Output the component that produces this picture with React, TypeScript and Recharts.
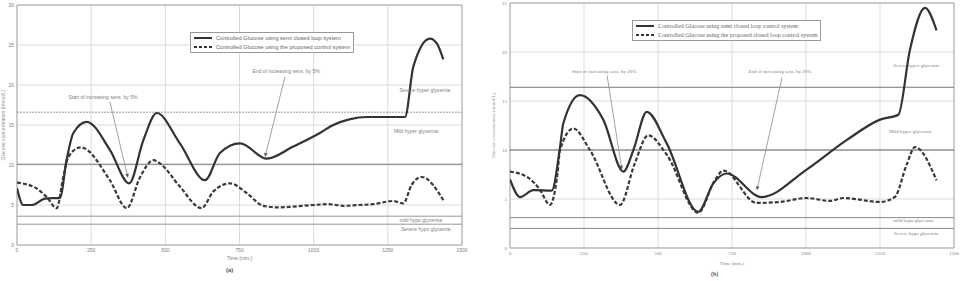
import React from 'react';
import {
  LineChart,
  Line,
  XAxis,
  YAxis,
  CartesianGrid,
  ReferenceLine,
  ReferenceDot,
  ReferenceArea,
  Legend,
} from 'recharts';

// ---------- data ----------
const timeTicks = [0, 250, 500, 750, 1000, 1250, 1500];
const glucoseTicksA = [0, 5, 10, 15, 20, 25, 30];
const glucoseTicksB = [0, 5, 10, 15, 20, 25];

// Panel (a): sensitivity increased by 5%
const semiTimeA = [0, 21, 50, 95, 145, 167, 190, 235, 313, 378, 426, 471, 549, 634, 684, 752, 842, 931, 1021, 1066, 1120, 1180, 1250, 1308, 1336, 1392, 1415, 1437];
const semiGlucoseA = [7.1, 5.0, 5.0, 5.8, 5.9, 10.6, 14.0, 15.4, 11.9, 7.7, 13.1, 16.5, 12.7, 8.1, 11.5, 12.7, 10.8, 12.3, 14.0, 15.0, 15.7, 16.0, 16.0, 16.0, 22.3, 25.8, 25.2, 23.2];
const propTimeA = [0, 60, 100, 134, 156, 173, 215, 313, 370, 415, 460, 482, 549, 622, 662, 718, 774, 830, 880, 931, 999, 1050, 1100, 1150, 1200, 1268, 1302, 1330, 1364, 1437];
const propGlucoseA = [7.8, 7.2, 6.0, 4.6, 8.5, 11.0, 12.2, 8.1, 4.6, 8.5, 10.6, 10.2, 7.3, 4.6, 6.7, 7.7, 6.5, 4.9, 4.7, 4.8, 5.0, 5.1, 4.9, 5.0, 5.1, 5.5, 5.2, 7.5, 8.5, 5.6];

// Panel (b): sensitivity increased by 20%
const semiTimeB = [0, 34, 79, 141, 169, 180, 236, 315, 383, 417, 462, 529, 636, 687, 732, 850, 1002, 1137, 1250, 1312, 1351, 1402, 1441];
const semiGlucoseB = [7.0, 5.2, 5.9, 5.85, 10.3, 12.7, 15.6, 13.1, 7.8, 10.0, 13.9, 10.7, 3.7, 6.6, 7.6, 5.2, 8.0, 11.0, 13.1, 13.6, 20.2, 24.5, 22.2];
const propTimeB = [0, 60, 100, 135, 160, 169, 214, 270, 372, 420, 467, 530, 636, 690, 721, 833, 912, 1002, 1081, 1126, 1250, 1300, 1340, 1368, 1441];
const propGlucoseB = [7.8, 7.2, 6.0, 4.4, 7.5, 10.0, 12.2, 10.0, 4.4, 8.5, 11.5, 9.5, 3.6, 6.8, 7.9, 4.6, 4.7, 5.1, 4.8, 5.1, 4.7, 5.2, 8.5, 10.3, 6.9];

const thresholdNames = ['Severe hyper glycemia', 'Mild hyper glycemia', 'mild hypo glycemia', 'Severe hypo glycemia'];
const thresholdsA = [16.6, 10.1, 3.6, 2.6];
const thresholdsB = [16.4, 10.0, 3.1, 2.0];
const thresholdLabelTimeA = [1375, 1345, 1361, 1378];
const thresholdLabelGlucoseA = [19.4, 14.25, 3.1, 2.0];
const thresholdLabelTimeB = [1372, 1351, 1362, 1372];
const thresholdLabelGlucoseB = [18.7, 11.9, 2.86, 1.5];

const noteTextsA = ['Start of increasing sens. by 5%', 'End of increasing sens. by 5%'];
const noteTextsB = ['Start of increasing sens. by 20%', 'End of increasing sens. by 20%'];
// [label t, label g, arrow start t, start g, arrow end t, end g]
const notesA = [
  [290, 18.5, 313, 17.9, 374, 8.4],
  [907, 21.75, 903, 21.0, 836, 11.0],
];
const notesB = [
  [318, 18.0, 328, 17.6, 378, 8.0],
  [912, 18.0, 919, 17.4, 834, 5.9],
];

const legendA = ['Controlled Glucose using semi closed loop system', 'Controlled Glucose using the proposed control system'];
const legendB = ['Controlled Glucose using semi closed loop control system', 'Controlled Glucose using the proposed closed loop control system'];

const zip = (t: number[], g: number[]) => t.map((x, i) => ({ t: x, g: g[i] }));

// ---------- helpers ----------
const Arrow = (p: any) => {
  const { x1, y1, x2, y2 } = p;
  const a = Math.atan2(y2 - y1, x2 - x1);
  const L = 4;
  const W = 1.8;
  const bx = x2 - L * Math.cos(a);
  const by = y2 - L * Math.sin(a);
  const px = -Math.sin(a) * W;
  const py = Math.cos(a) * W;
  return (
    <g>
      <line x1={x1} y1={y1} x2={bx} y2={by} stroke="#8a8a8a" strokeWidth={0.8} />
      <polygon points={`${x2},${y2} ${bx + px},${by + py} ${bx - px},${by - py}`} fill="#555" />
    </g>
  );
};

const makeLegend = (items: string[], font: string, fontSize: number) => () => (
  <div
    style={{
      border: '1px solid #999',
      background: '#fff',
      padding: '1px 3px',
      fontFamily: font,
      fontSize,
      color: '#666',
      lineHeight: '8.5px',
      whiteSpace: 'nowrap',
    }}
  >
    {items.map((txt, i) => (
      <div key={i} style={{ display: 'flex', alignItems: 'center' }}>
        <svg width={18} height={6} style={{ marginRight: 4 }}>
          <line
            x1={0}
            y1={3}
            x2={18}
            y2={3}
            stroke="#333"
            strokeWidth={2}
            strokeDasharray={i === 1 ? '3 2' : undefined}
          />
        </svg>
        <span>{txt}</span>
      </div>
    ))}
  </div>
);

type PanelProps = {
  width: number;
  height: number;
  margin: { top: number; right: number; bottom: number; left: number };
  yAxisWidth: number;
  yTicks: number[];
  semi: { t: number; g: number }[];
  prop: { t: number; g: number }[];
  thresholds: number[];
  thrLabelT: number[];
  thrLabelG: number[];
  thrColors: string[];
  thrDash: (string | undefined)[];
  notes: number[][];
  noteTexts: string[];
  legendItems: string[];
  legendPos: { left: number; top: number };
  legendFont: number;
  font: string;
  yLabelOffset: number;
  xLabelOffset: number;
};

function Panel(p: PanelProps) {
  const yMax = p.yTicks[p.yTicks.length - 1];
  const small = { fontSize: 5, fill: '#808080', fontFamily: p.font };
  return (
    <LineChart width={p.width} height={p.height} margin={p.margin} style={{ fontFamily: p.font }}>
      <CartesianGrid stroke="#d2d2d2" strokeWidth={0.8} />
      <ReferenceArea x1={0} x2={1500} y1={0} y2={yMax} fill="none" stroke="#9a9a9a" strokeWidth={0.8} ifOverflow="visible" />
      <XAxis
        dataKey="t"
        type="number"
        domain={[0, 1500]}
        ticks={timeTicks}
        allowDataOverflow
        tick={small}
        tickLine={false}
        axisLine={false}
        tickSize={2}
        tickMargin={1}
        height={12}
        label={{ value: 'Time (min.)', position: 'insideBottom', offset: p.xLabelOffset, fontSize: 5, fill: '#808080' }}
      />
      <YAxis
        type="number"
        domain={[0, yMax]}
        ticks={p.yTicks}
        allowDataOverflow
        tick={small}
        tickLine={false}
        axisLine={false}
        tickSize={2}
        tickMargin={1}
        width={p.yAxisWidth}
        label={{
          value: 'Glucose concentration (mmol/L)',
          angle: -90,
          position: 'insideLeft',
          offset: p.yLabelOffset,
          fontSize: 5,
          fill: '#909090',
          style: { textAnchor: 'middle' },
        }}
      />
      {p.thresholds.map((v, i) => (
        <ReferenceLine key={'thr' + i} y={v} stroke={p.thrColors[i]} strokeWidth={0.9} strokeDasharray={p.thrDash[i]} />
      ))}
      {p.thresholds.map((_, i) => (
        <ReferenceDot
          key={'thl' + i}
          x={p.thrLabelT[i]}
          y={p.thrLabelG[i]}
          r={0.01}
          fill="none"
          stroke="none"
          label={{ value: thresholdNames[i], position: 'center', ...small }}
        />
      ))}
      {p.notes.map((n, i) => (
        <ReferenceLine
          key={'ar' + i}
          segment={[
            { x: n[2], y: n[3] },
            { x: n[4], y: n[5] },
          ]}
          shape={Arrow}
          ifOverflow="visible"
        />
      ))}
      {p.notes.map((n, i) => (
        <ReferenceDot
          key={'nt' + i}
          x={n[0]}
          y={n[1]}
          r={0.01}
          fill="none"
          stroke="none"
          label={{ value: p.noteTexts[i], position: 'center', ...small }}
        />
      ))}
      <Line
        data={p.prop}
        dataKey="g"
        type="monotone"
        stroke="#3a3a3a"
        strokeWidth={2.2}
        strokeDasharray="4 2"
        dot={false}
        isAnimationActive={false}
      />
      <Line
        data={p.semi}
        dataKey="g"
        type="monotone"
        stroke="#333"
        strokeWidth={2.2}
        dot={false}
        isAnimationActive={false}
      />
      <Legend
        layout="vertical"
        align="center"
        verticalAlign="middle"
        content={makeLegend(p.legendItems, p.font, p.legendFont)}
        wrapperStyle={{ position: 'absolute', left: p.legendPos.left, top: p.legendPos.top, width: 'auto' }}
      />
    </LineChart>
  );
}

export default function App() {
  return (
    <div style={{ position: 'absolute', left: 0, top: 0, width: 961, height: 281, background: '#fff', overflow: 'hidden' }}>
      <div style={{ position: 'absolute', left: 0, top: 0 }}>
        <Panel
          width={480}
          height={281}
          margin={{ top: 5, right: 18, bottom: 24, left: 5 }}
          yAxisWidth={12}
          yTicks={glucoseTicksA}
          semi={zip(semiTimeA, semiGlucoseA)}
          prop={zip(propTimeA, propGlucoseA)}
          thresholds={thresholdsA}
          thrLabelT={thresholdLabelTimeA}
          thrLabelG={thresholdLabelGlucoseA}
          thrColors={['#8c8c8c', '#6a6a6a', '#8c8c8c', '#8c8c8c']}
          thrDash={['2 1', undefined, undefined, undefined]}
          notes={notesA}
          noteTexts={noteTextsA}
          legendItems={legendA}
          legendPos={{ left: 190, top: 32 }}
          legendFont={5.6}
          font="'Liberation Sans', Arial, sans-serif"
          yLabelOffset={-2}
          xLabelOffset={-3}
        />
      </div>
      <div style={{ position: 'absolute', left: 480, top: 0 }}>
        <Panel
          width={481}
          height={281}
          margin={{ top: 3, right: 7, bottom: 21, left: 10 }}
          yAxisWidth={20}
          yTicks={glucoseTicksB}
          semi={zip(semiTimeB, semiGlucoseB)}
          prop={zip(propTimeB, propGlucoseB)}
          thresholds={thresholdsB}
          thrLabelT={thresholdLabelTimeB}
          thrLabelG={thresholdLabelGlucoseB}
          thrColors={['#6a6a6a', '#5a5a5a', '#7a7a7a', '#7a7a7a']}
          thrDash={[undefined, undefined, undefined, undefined]}
          notes={notesB}
          noteTexts={noteTextsB}
          legendItems={legendB}
          legendPos={{ left: 152, top: 20 }}
          legendFont={6}
          font="'Liberation Serif', 'Times New Roman', serif"
          yLabelOffset={3}
          xLabelOffset={-5}
        />
      </div>
      <div style={{ position: 'absolute', left: 226, top: 267, fontSize: 6, color: '#555', fontFamily: 'Liberation Sans, sans-serif', fontWeight: 'bold' }}>(a)</div>
      <div style={{ position: 'absolute', left: 711, top: 271, fontSize: 6, color: '#555', fontFamily: 'Liberation Serif, serif', fontWeight: 'bold' }}>(b)</div>
    </div>
  );
}
